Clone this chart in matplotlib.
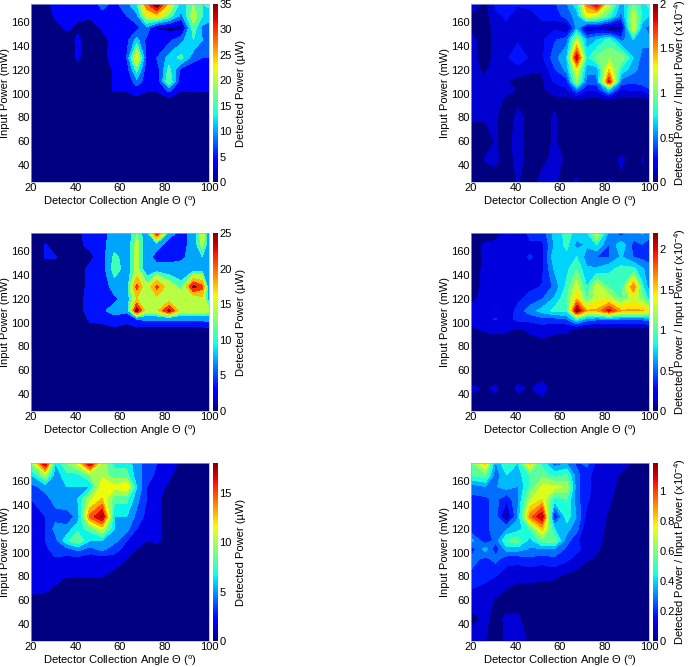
import numpy as np
import matplotlib
matplotlib.use("Agg")
import matplotlib.pyplot as plt
from matplotlib.cm import ScalarMappable
from matplotlib.colors import Normalize

plt.rcParams['font.family'] = ['Liberation Sans', 'DejaVu Sans']
plt.rcParams['mathtext.default'] = 'regular'

angle = [20, 26.5, 31, 36, 41, 46.5, 52, 57.5, 63, 67.5, 72, 76.5, 82, 87.5, 93, 97, 100]
power = [175, 165, 155, 145, 130, 120, 110, 103, 95, 80, 60, 45, 26]

# rows go from the top of the plot (175 mW) to the bottom (26 mW)
detected_a = [
    [0, 1, 4, 3, 4, 4, 7, 5, 8, 12, 25, 34, 20, 10, 15, 12, 13],
    [0, 0.5, 3, 3, 3, 3, 5, 3, 6, 8, 18, 20, 14, 8, 17, 12, 10],
    [0, 0, 1.5, 3, 2, 1, 3, 3, 5, 5, 8, 2, 1.5, 1, 14, 8, 8],
    [0, 0, 0, 1, 3, 1, 1, 4, 5, 10, 5, 5, 5, 8, 12, 9, 9],
    [0, 0, 0, 0, 3, 0.5, 0.5, 5, 6, 20, 5, 6, 10, 13, 7, 6, 6],
    [0, 0, 0, 0, 1, 0, 0, 3, 4, 13, 4, 4, 13, 5, 4, 4, 5],
    [0, 0, 0, 0, 0, 0, 0, 3, 3, 8, 4, 3, 15, 3, 3, 3, 4],
    [0, 0, 0, 0, 0, 0, 0.5, 2.8, 2.8, 4, 2.7, 2.7, 7, 2.7, 2.8, 2.8, 2.8],
    [0, 0, 0, 0, 0, 0, 0, 1, 1, 1.5, 1, 1, 1.5, 1, 1, 1, 1],
    [0] * 17,
    [0] * 17,
    [0] * 17,
    [0] * 17,
]
ratio_a = [
    [.25, .1, .3, .3, .3, .3, .4, .4, .55, .8, 1.6, 1.95, 1.2, .6, 1, .8, .9],
    [.1, .08, .25, .3, .2, .25, .3, .3, .5, .6, 1.3, 1.2, .9, .5, 1.2, .8, .7],
    [.08, .05, .2, .25, .2, .2, .25, .25, .1, .6, .1, .15, .05, .1, 1.3, .6, .5],
    [.2, .05, .2, .25, .25, .25, .25, .4, .5, 1.2, .6, .7, .9, .5, .7, .6, .6],
    [.2, .05, .2, .25, .4, .25, .25, .5, .7, 1.95, .8, 1, 1.1, 1.1, .7, .5, .5],
    [.2, .1, .25, .25, .2, .15, .15, .4, .6, 1.3, .6, .6, 1.4, .8, .6, .5, .5],
    [.2, .2, .25, .15, .1, .12, .12, .3, .35, 1.1, .5, .5, 1.85, .5, .45, .5, .5],
    [.2, .25, .25, .2, .12, .12, .12, .2, .25, .5, .3, .3, .7, .25, .3, .3, .4],
    [.2, .2, .2, .1, .1, .1, .1, .1, .1, .12, .1, .1, .12, .1, .1, .1, .1],
    [.16, .16, .16, .05, .18, .1, .08, .16, .05, .05, .05, .05, .05, .05, .05, .05, .05],
    [.05, .05, .15, .08, .2, .08, .08, .16, .05, .03, .03, .03, .03, .03, .03, .03, .03],
    [.05, .15, .18, .05, .2, .08, .1, .18, .12, .05, .1, .05, .05, .17, .05, .15, .1],
    [.05, .05, .05, .05, .15, .05, .2, .15, .1, .16, .05, .05, .15, .1, .05, .1, .1],
]
detected_b = [
    [0, 0, 1, 0, 1, 4, 4, 8, 8, 12, 8, 22, 8, 4, 8, 14, 8],
    [0, 2.2, 0, 0, 1, 3, 5, 8, 8, 13, 8, 8, 4, 4, 8, 13, 8],
    [0, 2.2, 2.2, 0, 0.5, 1, 4, 11, 8, 13, 8, 4, 4, 5, 8, 10, 8],
    [0, 1, 1, 0, 0, 3, 4, 12, 8, 13, 8, 8, 8, 8, 8, 8, 8],
    [0, 0, 0, 0, 0.5, 3, 3, 8, 8, 20, 13, 20, 14, 11, 23, 20, 7],
    [0, 0, 0, 0, 1, 3, 3, 5, 8, 16, 13, 15, 14, 14, 13, 15, 8],
    [0, 0, 0, 0, 1, 3, 5, 8, 7, 24, 14, 15, 23, 14, 14, 15, 13],
    [0, 0, 0, 0, 0, 2.5, 3, 4, 3, 6, 7, 7, 7, 7, 7, 7, 8],
    [0, 0, 0, 0, 0, 1, 1, 1.5, 1, 1, 1, 1, 1, 1, 1, 1, 1],
    [0] * 17,
    [0] * 17,
    [0] * 17,
    [0] * 17,
]
ratio_b = [
    [.12, .05, .12, .2, .15, .4, .4, .75, .9, .8, .8, 1.3, .6, .4, .6, .7, .6],
    [.1, .2, .2, .2, .2, .3, .3, .7, .9, .6, .7, .85, .5, .8, .45, .5, .4],
    [.1, .2, .2, .2, .3, .35, .3, .8, .8, .85, .6, .5, .5, .7, .5, .45, .4],
    [.1, .2, .2, .2, .2, .3, .3, .7, .8, 1, .7, .7, .8, .9, .9, .7, .6],
    [.12, .2, .2, .2, .2, .3, .35, .55, .9, 1.3, .85, 1.3, 1, .9, 1.7, .9, .6],
    [.15, .2, .25, .25, .3, .4, .5, .7, 1, 1.5, 1, 1.3, 1.3, 1, 1.3, 1.1, .8],
    [.2, .2, .25, .2, .4, .6, .75, .9, .9, 2.15, 1.55, 1.55, 1.95, 1.55, 1.55, 1.55, 1.4],
    [.2, .3, .35, .25, .4, .4, .45, .45, .5, .9, .6, .55, .55, .55, .55, .55, .6],
    [.15, .2, .2, .2, .15, .2, .25, .2, .2, .15, .12, .12, .12, .12, .12, .12, .12],
    [.05, .05, .1, .05, .1, .1, .1, .1, .1, .05, .05, .05, .05, .05, .05, .05, .05],
    [.05, .05, .05, .05, .05, .05, .05, .05, .03, .03, .03, .03, .03, .03, .03, .03, .03],
    [.2, .15, .2, .05, .2, .15, .25, .05, .03, .03, .03, .03, .03, .03, .03, .03, .03],
    [.05, .05, .05, .05, .05, .05, .03, .03, .03, .03, .03, .03, .03, .03, .03, .03, .03],
]
detected_c = [
    [9, 17, 6, 9, 11, 17, 10, 7, 7, 5, 4, 3, 2.5, 1, 0, 0, 0],
    [6, 10, 5, 7, 7, 9, 10, 8, 8, 5, 4, 2.5, 2, 0, 0, 0, 0],
    [4, 5, 5, 6, 6, 6, 12, 11, 12, 6, 3, 2.5, 1, 0, 0, 0, 0],
    [3, 4, 5, 6, 6, 10, 12, 8, 8, 5, 3, 2, .5, 0, 0, 0, 0],
    [3, 3, 4, 3.5, 5, 14, 17, 6, 6, 4, 2.5, 2, .5, 0, 0, 0, 0],
    [2.5, 3, 5, 5, 7, 8, 11, 6, 5, 3, 2, 2, .5, 0, 0, 0, 0],
    [2.5, 3, 4, 7, 9, 6, 6, 5, 3, 3, 1.5, 2, .5, 0, 0, 0, 0],
    [2.5, 2.5, 4, 4, 5, 4, 5, 3.5, 2.5, 1.5, 1.2, .5, 0, 0, 0, 0, 0],
    [2.5, 2.5, 2.8, 2.5, 2.5, 2, 2.2, 2.5, 1.5, 1, .5, 0, 0, 0, 0, 0, 0],
    [3, 2.5, 2, 1.5, 1.5, 1.5, 1.5, .8, 0, 0, 0, 0, 0, 0, 0, 0, 0],
    [1, 1, .5, .5, .5, .5, .5, 0, 0, 0, 0, 0, 0, 0, 0, 0, 0],
    [0] * 17,
    [0] * 17,
]
ratio_c = [
    [.6, .85, .35, .55, .45, .85, .5, .3, .35, .25, .3, .15, .15, .12, .08, .06, .09],
    [.55, .6, .3, .45, .4, .55, .6, .5, .55, .3, .2, .15, .12, .08, .06, .05, .05],
    [.3, .35, .35, .4, .35, .55, .75, .75, .7, .3, .2, .15, .1, .08, .05, .04, .04],
    [.25, .25, .3, .2, .35, .7, .8, .5, .55, .3, .2, .12, .1, .06, .05, .03, .03],
    [.2, .25, .3, .05, .35, .95, 1.18, .15, .5, .35, .15, .12, .08, .04, .03, .02, .02],
    [.2, .25, .3, .35, .4, .55, .85, .45, .4, .3, .1, .12, .07, .04, .02, .02, .02],
    [.4, .2, .3, .55, .6, .4, .6, .6, .3, .2, .1, .12, .05, .03, .02, .02, .02],
    [.2, .4, .2, .4, .4, .35, .35, .35, .25, .2, .15, .1, .05, .02, .02, .02, .02],
    [.3, .25, .3, .22, .22, .25, .22, .25, .2, .15, .1, .08, .03, .02, .02, .02, .02],
    [.25, .2, .18, .12, .1, .1, .1, .1, .07, .05, .03, .02, .02, .02, .02, .02, .02],
    [.12, .12, .08, .06, .06, .06, .05, .03, .02, .02, .02, .02, .02, .02, .02, .02, .02],
    [.07, .1, .07, .1, .1, .06, .04, .02, .02, .02, .02, .02, .02, .02, .02, .02, .02],
    [.12, .09, .06, .1, .15, .06, .03, .02, .02, .02, .02, .02, .02, .02, .02, .02, .02],
]

power_label = "Detected Power (\u00b5W)"
ratio_label = "Detected Power / Input Power (x10$^{-4}$)"

# contour levels of each panel
levels_a = [0, 2.5, 6, 9, 12, 15, 18, 22, 26, 30, 36]
levels_b = [0, 2, 6, 10, 12, 16, 19, 22, 26]
levels_c = list(np.arange(0, 18, 1.5)) + [19]
levels_ra = list(np.arange(0, 2, 0.14)) + [3]
levels_rb = list(np.arange(0, 2.2, 0.17)) + [3]
levels_rc = list(np.arange(0, 1.19, 0.09)) + [2]

# data, levels, colour top, colorbar ticks, label, tick text
panels = [
    (detected_a, levels_a, 35, [0, 5, 10, 15, 20, 25, 30, 35], power_label, None),
    (ratio_a, levels_ra, 2, [0, .5, 1, 1.5, 2], ratio_label, ["0", "0.5", "1", "1.5", "2"]),
    (detected_b, levels_b, 25, [0, 5, 10, 15, 20, 25], power_label, None),
    (ratio_b, levels_rb, 2.2, [0, .5, 1, 1.5, 2], ratio_label, ["0", "0.5", "1", "1.5", "2"]),
    (detected_c, levels_c, 18, [0, 5, 10, 15], power_label, None),
    (ratio_c, levels_rc, 1.19, [0, .2, .4, .6, .8, 1], ratio_label, ["0", "0.2", "0.4", "0.6", "0.8", "1"]),
]

W, H = 689, 667
tops = [4, 233, 463]
lefts = [31, 471]
fs = 8

fig = plt.figure(figsize=(W / 100, H / 100), dpi=100)
for i, (z, levels, vmax, cticks, clabel, cticklabels) in enumerate(panels):
    row = i // 2
    col = i % 2
    x0 = lefts[col]
    y0 = tops[row]
    ax = fig.add_axes([x0 / W, 1 - (y0 + 178) / H, 178 / W, 178 / H])
    # lowest band navy, the others step along jet up to dark red
    colors = plt.cm.jet(np.linspace(0, 1, len(levels) - 1))
    ax.contourf(angle, power, np.array(z), levels=levels, colors=colors)
    ax.set_xlim(20, 100)
    ax.set_ylim(26, 175)
    ax.set_xticks([20, 40, 60, 80, 100])
    ax.set_yticks([40, 60, 80, 100, 120, 140, 160])
    ax.tick_params(labelsize=8, length=0, pad=1)
    ax.set_xlabel("Detector Collection Angle \u0398 ($^{o}$)", fontsize=fs)
    ax.set_ylabel("Input Power (mW)", fontsize=fs)
    ax.xaxis.set_label_coords(0.5, -12.5 / 178)
    ax.yaxis.set_label_coords(-20.5 / 178, 0.5)
    for s in ax.spines.values():
        s.set_linewidth(0.5)
        s.set_color("#9fb4d8")

    cax = fig.add_axes([(x0 + 182) / W, 1 - (y0 + 178) / H, 5 / W, 178 / H])
    cb = fig.colorbar(ScalarMappable(Normalize(0, vmax), "jet"), cax=cax)
    cb.set_ticks(cticks)
    if cticklabels:
        cb.set_ticklabels(cticklabels)
    cb.ax.tick_params(labelsize=8, length=0, pad=1)
    cb.outline.set_linewidth(0)
    cb.set_label(clabel, fontsize=fs, labelpad=3 if col == 0 else -1.5)

fig.savefig("out.png", dpi=100)
